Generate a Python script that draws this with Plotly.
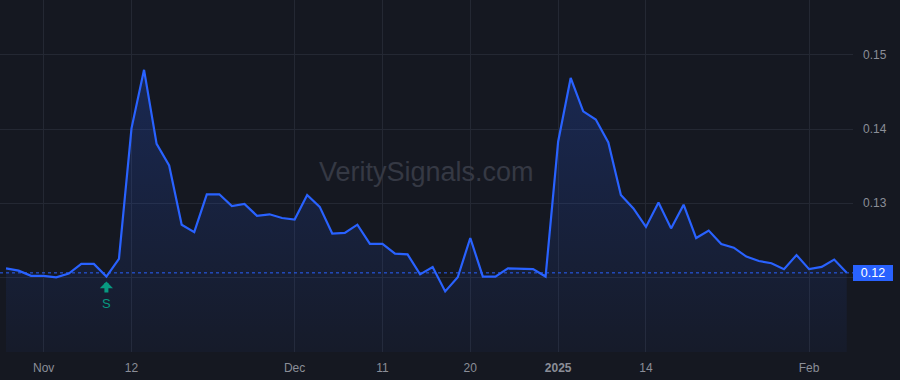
import plotly.graph_objects as go

# Trading days (category axis)
dates = [
    "2024-10-29", "2024-10-30", "2024-10-31",
    "2024-11-01", "2024-11-04", "2024-11-05", "2024-11-06", "2024-11-07", "2024-11-08",
    "2024-11-11", "2024-11-12", "2024-11-13", "2024-11-14", "2024-11-15",
    "2024-11-18", "2024-11-19", "2024-11-20", "2024-11-21", "2024-11-22",
    "2024-11-25", "2024-11-26", "2024-11-27", "2024-11-29",
    "2024-12-02", "2024-12-03", "2024-12-04", "2024-12-05", "2024-12-06",
    "2024-12-09", "2024-12-10", "2024-12-11", "2024-12-12", "2024-12-13",
    "2024-12-16", "2024-12-17", "2024-12-18", "2024-12-19", "2024-12-20",
    "2024-12-23", "2024-12-24", "2024-12-26", "2024-12-27",
    "2024-12-30", "2024-12-31", "2025-01-02", "2025-01-03",
    "2025-01-06", "2025-01-07", "2025-01-08", "2025-01-10",
    "2025-01-13", "2025-01-14", "2025-01-15", "2025-01-16", "2025-01-17",
    "2025-01-21", "2025-01-22", "2025-01-23", "2025-01-24",
    "2025-01-27", "2025-01-28", "2025-01-29", "2025-01-30", "2025-01-31",
    "2025-02-03", "2025-02-04", "2025-02-05", "2025-02-06",
]

prices = [
    0.1212, 0.1209, 0.1202,
    0.1202, 0.1200, 0.1205, 0.1218, 0.1218, 0.1201,
    0.1225, 0.1401, 0.1480, 0.1380, 0.1351, 0.1271,
    0.1261, 0.1312, 0.1312, 0.1296, 0.1299,
    0.1283, 0.1285, 0.1280, 0.1278,
    0.1311, 0.1295, 0.1259, 0.1260, 0.1271,
    0.1245, 0.1245, 0.1232, 0.1231, 0.1204,
    0.1214, 0.1181, 0.1200, 0.1253,
    0.1201, 0.1201, 0.1212, 0.1212,
    0.1211, 0.1201, 0.1383, 0.1469,
    0.1424, 0.1413, 0.1382, 0.1311,
    0.1293, 0.1268, 0.1301, 0.1266, 0.1298,
    0.1253, 0.1263, 0.1245, 0.1240,
    0.1228, 0.1222, 0.1219, 0.1211, 0.1230,
    0.1211, 0.1214, 0.1224, 0.1206,
]

tick_dates = ["2024-11-01", "2024-11-12", "2024-12-02", "2024-12-11",
              "2024-12-20", "2025-01-02", "2025-01-14", "2025-02-03"]
tick_labels = ["Nov", "12", "Dec", "11", "20", "<b>2025</b>", "14", "Feb"]

y_ticks = [0.12, 0.13, 0.14, 0.15]
y_tick_labels = ["", "0.13", "0.14", "0.15"]

signal_date = "2024-11-08"
signal_text = "S"
last_label = "0.12"
watermark = "VeritySignals.com"

BG = "#151821"
GRID = "#242833"
BLUE = "#2962ff"
TEAL = "#089981"
FONT = "Liberation Sans, Arial, sans-serif"

fig = go.Figure()
fig.add_trace(go.Scatter(
    x=dates, y=prices, mode="lines",
    line=dict(color=BLUE, width=2.2),
    fill="tozeroy",
    fillgradient=dict(
        type="vertical",
        colorscale=[[0, "rgba(41,98,255,0.04)"], [1, "rgba(41,98,255,0.22)"]],
        start=0.11, stop=0.148,
    ),
    hoverinfo="skip",
    showlegend=False,
))

last_price = prices[-1]
sig_price = prices[dates.index(signal_date)]

fig.add_shape(type="line", xref="paper", x0=0, x1=1, yref="y",
              y0=last_price, y1=last_price,
              line=dict(color=BLUE, width=1, dash="dot"))

fig.add_annotation(xref="paper", x=0.5, yref="paper", y=0.51,
                   text=watermark, showarrow=False,
                   font=dict(family=FONT, size=27, color="#353944"))

fig.add_annotation(xref="paper", x=1, xanchor="left", yref="y", y=last_price,
                   text=last_label, showarrow=False, bgcolor=BLUE,
                   width=36, height=12, borderpad=2, borderwidth=0,
                   font=dict(family=FONT, size=12.5, color="#ffffff"))

fig.add_annotation(x=signal_date, y=sig_price, yshift=-5,
                   ax=0, ay=22, text=signal_text, showarrow=True,
                   arrowhead=1, arrowwidth=4, arrowsize=0.55, arrowcolor=TEAL,
                   standoff=0, startstandoff=2,
                   font=dict(family=FONT, size=13, color=TEAL))

fig.update_layout(
    width=900, height=380,
    margin=dict(l=0, r=47, t=0, b=28),
    paper_bgcolor=BG, plot_bgcolor=BG,
    xaxis=dict(
        type="category", range=[-0.48, 67.5],
        tickvals=tick_dates, ticktext=tick_labels,
        showgrid=True, gridcolor=GRID, gridwidth=1,
        zeroline=False, showline=False, ticks="",
        ticklabelstandoff=7,
        tickfont=dict(family=FONT, size=12, color="#8b8e98"),
    ),
    yaxis=dict(
        side="right", range=[0.10992, 0.15742],
        tickvals=y_ticks, ticktext=y_tick_labels,
        showgrid=True, gridcolor=GRID, gridwidth=1,
        zeroline=False, showline=False, ticks="",
        ticklabelstandoff=9,
        tickfont=dict(family=FONT, size=12, color="#8b8e98"),
    ),
)

fig.write_html("out.html", config={"displayModeBar": False})
